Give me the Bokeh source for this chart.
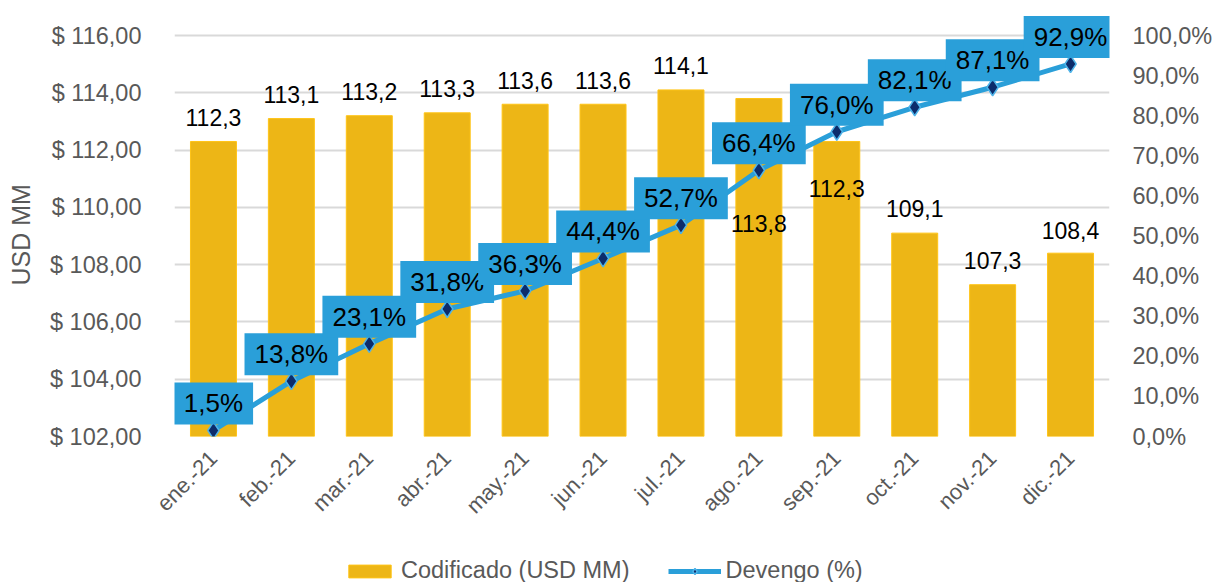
import math
import numpy as np
from bokeh.plotting import figure
from bokeh.layouts import column
from bokeh.models import (ColumnDataSource, Range1d, LinearAxis, FixedTicker,
                          CustomJSTickFormatter, LabelSet, Label, Legend, LegendItem)
from bokeh.core.properties import value
from bokeh.embed import file_html
from bokeh.resources import INLINE

months = ["ene.-21", "feb.-21", "mar.-21", "abr.-21", "may.-21", "jun.-21",
          "jul.-21", "ago.-21", "sep.-21", "oct.-21", "nov.-21", "dic.-21"]
codificado = [112.3, 113.1, 113.2, 113.3, 113.6, 113.6, 114.1, 113.8, 112.3, 109.1, 107.3, 108.4]
devengo = [1.5, 13.8, 23.1, 31.8, 36.3, 44.4, 52.7, 66.4, 76.0, 82.1, 87.1, 92.9]
left_ticks = [102, 104, 106, 108, 110, 112, 114, 116]
right_ticks = [0, 10, 20, 30, 40, 50, 60, 70, 80, 90, 100]
series_names = ["Codificado (USD MM)", "Devengo (%)"]

# label placement (screen px offsets, positive = up)
bar_label_offsets = [24, 24, 24, 24, 24, 24, 24, -125, -47, 25, 24, 23]

BAR = "#EDB616"
BLUE = "#2A9FD9"
NAVY = "#0C2C6B"
GRAY = "#595959"
FONT = "Liberation Sans"

# geometry: axis span 401 px, plus headroom above the top tick so the last label box is not clipped
AXIS_PX = 401
HEAD_PX = 30
lo_l, hi_l = left_ticks[0], left_ticks[-1]
lo_r, hi_r = right_ticks[0], right_ticks[-1]

src = ColumnDataSource(dict(
    m=months, v=codificado, p=devengo,
    vl=[f"{x:.1f}".replace(".", ",") for x in codificado],
    pl=[f"{x:.1f}".replace(".", ",") + "%" for x in devengo],
    off=bar_label_offsets,
))

p = figure(x_range=months,
           y_range=Range1d(lo_l, hi_l + (hi_l - lo_l) * HEAD_PX / AXIS_PX),
           width=1215, height=549, output_backend="svg", toolbar_location=None,
           min_border_left=174, min_border_right=106, min_border_top=5, min_border_bottom=113)
p.extra_y_ranges = {"pct": Range1d(lo_r, hi_r + (hi_r - lo_r) * HEAD_PX / AXIS_PX)}
p.outline_line_color = None
p.background_fill_color = "white"

bar_style = dict(fill_color=BAR, line_color="#FFC416", line_width=1)
line_style = dict(line_color=BLUE, line_width=5)
pt_style = dict(marker="diamond", size=17, fill_color=NAVY, line_color="#4FB3E8", line_width=1.5)

p.vbar(x="m", top="v", bottom=lo_l, width=0.59, source=src, **bar_style)
p.line(x="m", y="p", source=src, y_range_name="pct", **line_style)
p.scatter(x="m", y="p", source=src, y_range_name="pct", **pt_style)

# axes
yl = p.yaxis[0]
yl.ticker = FixedTicker(ticks=left_ticks)
yl.formatter = CustomJSTickFormatter(code="return '$ ' + tick.toFixed(2).replace('.', ',');")
yl.axis_label = "USD MM" + "\u00a0" * 4   # trailing no-break spaces re-centre the label on the tick span
yl.axis_label_text_font = FONT
yl.axis_label_text_font_size = "25px"
yl.axis_label_text_font_style = "normal"
yl.axis_label_text_color = GRAY
yl.axis_label_standoff = 12

yr = LinearAxis(y_range_name="pct", ticker=FixedTicker(ticks=right_ticks))
yr.formatter = CustomJSTickFormatter(code="return tick.toFixed(1).replace('.', ',') + '%';")
p.add_layout(yr, "right")

for ax in (yl, yr):
    ax.axis_line_color = None
    ax.major_tick_line_color = None
    ax.minor_tick_line_color = None
    ax.major_label_text_font = FONT
    ax.major_label_text_font_size = "23.5px"
    ax.major_label_text_color = GRAY
yl.major_label_standoff = 27
yr.major_label_standoff = 17

xa = p.xaxis[0]
xa.axis_line_color = None
xa.major_tick_line_color = None
xa.minor_tick_line_color = None
xa.major_label_orientation = math.pi / 4
xa.major_label_text_font = FONT
xa.major_label_text_font_size = "22px"
xa.major_label_text_color = GRAY
xa.major_label_standoff = 12

p.xgrid.grid_line_color = None
p.ygrid.grid_line_color = "#D9D9D9"
p.ygrid.grid_line_width = 2
p.ygrid.ticker = FixedTicker(ticks=left_ticks)

# bar value labels
p.add_layout(LabelSet(x="m", y="v", text="vl", source=src, y_offset="off",
                      text_align="center", text_baseline="middle",
                      text_font=value(FONT), text_font_size=value("23px"),
                      text_color="black"))

# percentage labels with blue boxes (x in the categorical range's synthetic coordinates)
for i, (v, t) in enumerate(zip(devengo, src.data["pl"])):
    p.add_layout(Label(x=i + 0.5, y=v, y_range_name="pct", text=t, y_offset=27,
                       text_align="center", text_baseline="middle",
                       text_font=FONT, text_font_size="26px", text_color="black",
                       background_fill_color=BLUE, padding=(10, 6)))

# legend strip below the chart; proxy glyphs carry no drawable coordinates
lf = figure(width=1215, height=33, output_backend="svg", toolbar_location=None,
            x_range=Range1d(0, 1), y_range=Range1d(0, 1),
            min_border=0, outline_line_color=None)
lf.axis.visible = False
lf.grid.visible = False
proxy = ColumnDataSource(dict(x=np.array([np.nan]), y=np.array([np.nan])))
lb = lf.vbar(x="x", top="y", width=0.5, source=proxy, **bar_style)
ll = lf.line(x="x", y="y", source=proxy, **line_style)
lp = lf.scatter(x="x", y="y", source=proxy, **pt_style)
legend = Legend(items=[LegendItem(label=series_names[0], renderers=[lb]),
                       LegendItem(label=series_names[1], renderers=[ll, lp])],
                orientation="horizontal", location=(169, -2),
                glyph_width=53, glyph_height=16, label_standoff=5, spacing=38,
                padding=0, margin=0, border_line_color=None, background_fill_alpha=0,
                label_text_font=FONT, label_text_font_size="23.5px", label_text_color=GRAY)
lf.add_layout(legend, "center")

layout = column(p, lf, spacing=0)
open("out.html", "w").write(file_html(layout, INLINE))
